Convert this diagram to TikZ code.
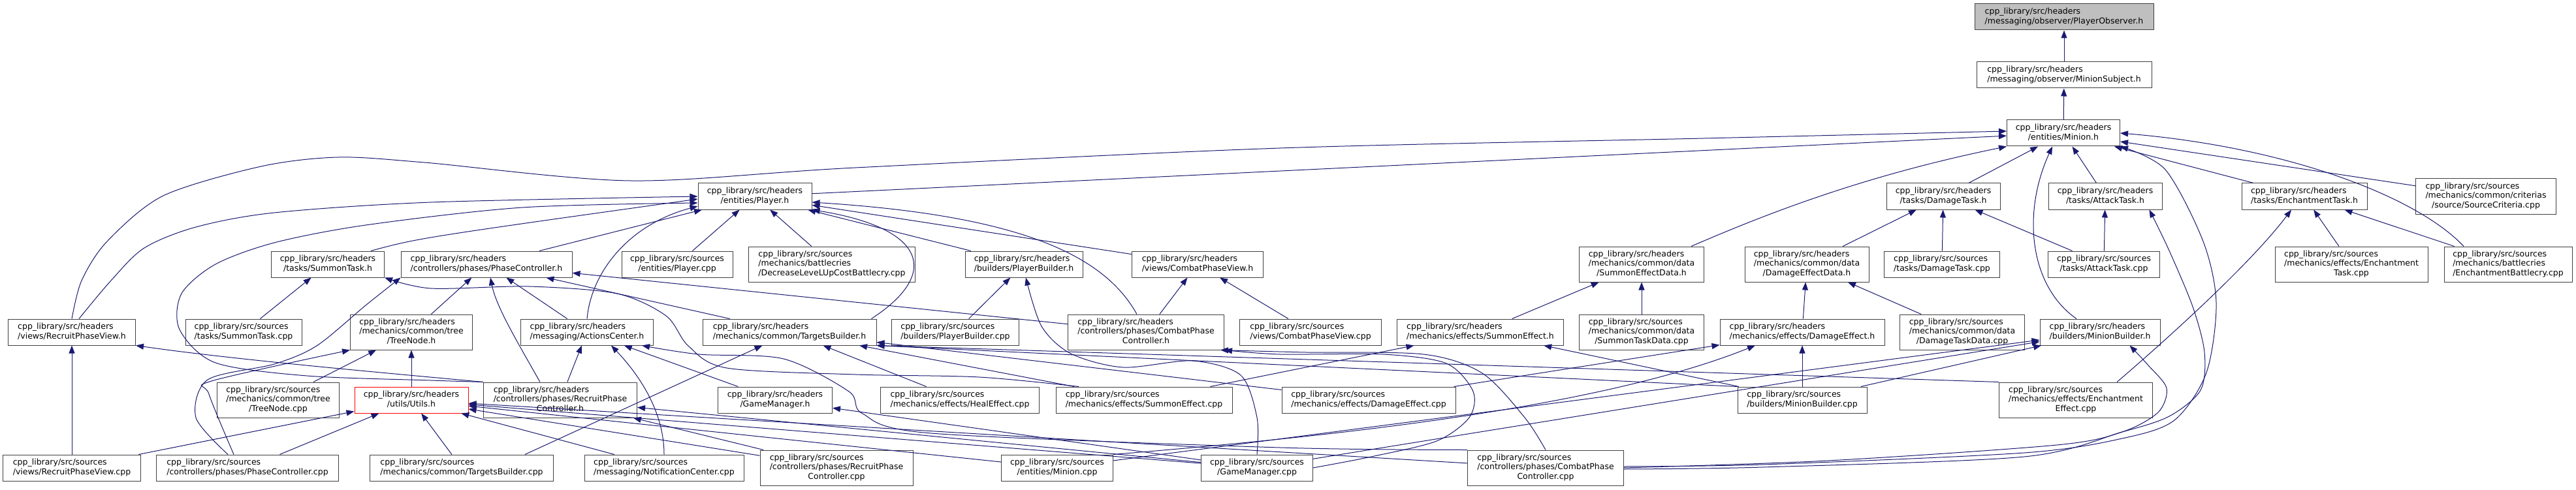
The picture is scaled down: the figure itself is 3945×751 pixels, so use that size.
\documentclass[tikz,border=0pt]{standalone}
\usepackage{fontspec}
\newfontfamily\dxfont{DejaVu Sans}
\usepackage{tikz}
\usetikzlibrary{arrows.meta}

\definecolor{edgeblue}{HTML}{191970}
\definecolor{boxline}{HTML}{404040}
\definecolor{rootgray}{HTML}{BFBFBF}

\newcommand{\hdrs}{cpp\_library/src/headers}
\newcommand{\srcs}{cpp\_library/src/sources}
\newcommand{\twolines}[2]{\begin{tabular}{@{}l@{}}#1\\\multicolumn{1}{@{}c@{}}{#2}\end{tabular}}
\newcommand{\threelines}[3]{\begin{tabular}{@{}l@{}}#1\\#2\\\multicolumn{1}{@{}c@{}}{#3}\end{tabular}}

\begin{document}
\begin{tikzpicture}[x=1pt, y=-1pt]
    % Define styles
    \tikzstyle{file} = [rectangle, draw=boxline, fill=white, line width=1pt, minimum height=40pt, inner sep=0pt, font=\dxfont\fontsize{12.5}{14.5}\selectfont]
    \tikzstyle{tall} = [minimum height=54pt]
    \tikzstyle{root} = [fill=rootgray]
    \tikzstyle{warn} = [draw=red]
    \tikzstyle{inc} = [draw=edgeblue, line width=1pt, -{Triangle[length=12pt, width=9pt]}]

    \useasboundingbox (0,0) rectangle (3945,751);

    % Observer chain
    \node[file, root, minimum width=274pt] (observer) at (3161,26) {\twolines{\hdrs}{/messaging/observer/PlayerObserver.h}};
    \node[file, minimum width=268pt] (subject) at (3161,115) {\twolines{\hdrs}{/messaging/observer/MinionSubject.h}};
    \node[file, minimum width=173pt] (minionh) at (3160,204) {\twolines{\hdrs}{/entities/Minion.h}};

    % Row 3
    \node[file, minimum width=174pt] (playerh) at (1156,301) {\twolines{\hdrs}{/entities/Player.h}};
    \node[file, minimum width=174pt] (damagetaskh) at (2976,301) {\twolines{\hdrs}{/tasks/DamageTask.h}};
    \node[file, minimum width=174pt] (attacktaskh) at (3224,301) {\twolines{\hdrs}{/tasks/AttackTask.h}};
    \node[file, minimum width=192pt] (enchtaskh) at (3529,301) {\twolines{\hdrs}{/tasks/EnchantmentTask.h}};
    \node[file, tall, minimum width=215pt] (srccrit) at (3807,301) {\threelines{\srcs}{/mechanics/common/criterias}{/source/SourceCriteria.cpp}};

    % Row 4
    \node[file, minimum width=173pt] (summontaskh) at (502,405) {\twolines{\hdrs}{/tasks/SummonTask.h}};
    \node[file, minimum width=262pt] (phasectrlh) at (745,405) {\twolines{\hdrs}{/controllers/phases/PhaseController.h}};
    \node[file, minimum width=170pt] (playercpp) at (1037,405) {\twolines{\srcs}{/entities/Player.cpp}};
    \node[file, tall, minimum width=255pt] (declevelcpp) at (1274,405) {\threelines{\srcs}{/mechanics/battlecries}{/DecreaseLeveLUpCostBattlecry.cpp}};
    \node[file, minimum width=180pt] (plbuilderh) at (1568,405) {\twolines{\hdrs}{/builders/PlayerBuilder.h}};
    \node[file, minimum width=201pt] (combatviewh) at (1834,405) {\twolines{\hdrs}{/views/CombatPhaseView.h}};
    \node[file, tall, minimum width=191pt] (summondatah) at (2514,405) {\threelines{\hdrs}{/mechanics/common/data}{/SummonEffectData.h}};
    \node[file, tall, minimum width=190pt] (damagedatah) at (2767,405) {\threelines{\hdrs}{/mechanics/common/data}{/DamageEffectData.h}};
    \node[file, minimum width=177pt] (damagetaskcpp) at (2974,405) {\twolines{\srcs}{/tasks/DamageTask.cpp}};
    \node[file, minimum width=171pt] (attacktaskcpp) at (3222,405) {\twolines{\srcs}{/tasks/AttackTask.cpp}};
    \node[file, tall, minimum width=234pt] (enchtaskcpp) at (3601,405) {\threelines{\srcs}{/mechanics/effects/Enchantment}{Task.cpp}};
    \node[file, tall, minimum width=196pt] (enchbattlecpp) at (3841,405) {\threelines{\srcs}{/mechanics/battlecries}{/EnchantmentBattlecry.cpp}};

    % Row 5
    \node[file, minimum width=195pt] (recruitviewh) at (110,509) {\twolines{\hdrs}{/views/RecruitPhaseView.h}};
    \node[file, minimum width=178pt] (summontaskcpp) at (373,509) {\twolines{\srcs}{/tasks/SummonTask.cpp}};
    \node[file, tall, minimum width=187pt] (treenodeh) at (630,509) {\threelines{\hdrs}{/mechanics/common/tree}{/TreeNode.h}};
    \node[file, minimum width=203pt] (actionsh) at (899,509) {\twolines{\hdrs}{/messaging/ActionsCenter.h}};
    \node[file, minimum width=266pt] (targetsh) at (1209,509) {\twolines{\hdrs}{/mechanics/common/TargetsBuilder.h}};
    \node[file, minimum width=195pt] (plbuildercpp) at (1463,509) {\twolines{\srcs}{/builders/PlayerBuilder.cpp}};
    \node[file, tall, minimum width=239pt] (combatctrlh) at (1755,509) {\threelines{\hdrs}{/controllers/phases/CombatPhase}{Controller.h}};
    \node[file, minimum width=217pt] (combatviewcpp) at (2007,509) {\twolines{\srcs}{/views/CombatPhaseView.cpp}};
    \node[file, minimum width=255pt] (summoneffh) at (2267,509) {\twolines{\hdrs}{/mechanics/effects/SummonEffect.h}};
    \node[file, tall, minimum width=191pt] (summondatacpp) at (2514,509) {\threelines{\srcs}{/mechanics/common/data}{/SummonTaskData.cpp}};
    \node[file, minimum width=252pt] (damageeffh) at (2760,509) {\twolines{\hdrs}{/mechanics/effects/DamageEffect.h}};
    \node[file, tall, minimum width=191pt] (damagedatacpp) at (3005,509) {\threelines{\srcs}{/mechanics/common/data}{/DamageTaskData.cpp}};
    \node[file, minimum width=184pt] (minbuilderh) at (3216,509) {\twolines{\hdrs}{/builders/MinionBuilder.h}};

    % Row 6
    \node[file, tall, minimum width=187pt] (treenodecpp) at (426,613) {\threelines{\srcs}{/mechanics/common/tree}{/TreeNode.cpp}};
    \node[file, warn, minimum width=174pt] (utilsh) at (630,613) {\twolines{\hdrs}{/utils/Utils.h}};
    \node[file, tall, minimum width=235pt] (recruitctrlh) at (858,613) {\threelines{\hdrs}{/controllers/phases/RecruitPhase}{Controller.h}};
    \node[file, minimum width=175pt] (gamemgrh) at (1187,613) {\twolines{\hdrs}{/GameManager.h}};
    \node[file, minimum width=243pt] (healeffcpp) at (1470,613) {\twolines{\srcs}{/mechanics/effects/HealEffect.cpp}};
    \node[file, minimum width=270pt] (summoneffcpp) at (1752,613) {\twolines{\srcs}{/mechanics/effects/SummonEffect.cpp}};
    \node[file, minimum width=266pt] (damageeffcpp) at (2096,613) {\twolines{\srcs}{/mechanics/effects/DamageEffect.cpp}};
    \node[file, minimum width=198pt] (minbuildercpp) at (2760,613) {\twolines{\srcs}{/builders/MinionBuilder.cpp}};
    \node[file, tall, minimum width=235pt] (encheffcpp) at (3179,613) {\threelines{\srcs}{/mechanics/effects/Enchantment}{Effect.cpp}};

    % Row 7
    \node[file, minimum width=211pt] (recruitviewcpp) at (110,717) {\twolines{\srcs}{/views/RecruitPhaseView.cpp}};
    \node[file, minimum width=279pt] (phasectrlcpp) at (379,717) {\twolines{\srcs}{/controllers/phases/PhaseController.cpp}};
    \node[file, minimum width=281pt] (targetscpp) at (707,717) {\twolines{\srcs}{/mechanics/common/TargetsBuilder.cpp}};
    \node[file, minimum width=244pt] (notifcpp) at (1017,717) {\twolines{\srcs}{/messaging/NotificationCenter.cpp}};
    \node[file, tall, minimum width=234pt] (recruitctrlcpp) at (1281,717) {\threelines{\srcs}{/controllers/phases/RecruitPhase}{Controller.cpp}};
    \node[file, minimum width=171pt] (minioncpp) at (1619,717) {\twolines{\srcs}{/entities/Minion.cpp}};
    \node[file, minimum width=171pt] (gamemgrcpp) at (1925,717) {\twolines{\srcs}{/GameManager.cpp}};
    \node[file, tall, minimum width=239pt] (combatctrlcpp) at (2367,717) {\threelines{\srcs}{/controllers/phases/CombatPhase}{Controller.cpp}};

    % Minion.h connections
    \draw[inc] (subject) -- (observer);
    \draw[inc] (minionh) -- (subject);
    \draw[inc] (playerh) -- (minionh);
    \draw[inc] plot[smooth] coordinates {(recruitviewh.north) (125,430) (164,370) (250,300) (400,255) (518,241) (650,249) (966,277) (1310,257) (1960,227) (2610,212) ([yshift=3pt]minionh.west)};
    \draw[inc] ([xshift=76pt]summondatah.north) .. controls (2700,330) and (2850,270) .. (minionh.south west);
    \draw[inc] (damagetaskh) -- (minionh);
    \draw[inc] ([xshift=-36pt]minbuilderh.north) .. controls (3110,440) and (3095,330) .. ([xshift=-17pt]minionh.south);
    \draw[inc] (attacktaskh) -- (minionh);
    \draw[inc] (enchtaskh) -- (minionh);
    \draw[inc] (srccrit) -- (minionh);
    \draw[inc] ([xshift=-68pt]enchbattlecpp.north) .. controls (3700,300) and (3500,225) .. (minionh.east);
    \draw[inc] plot[smooth] coordinates {([yshift=2pt]combatctrlcpp.east) (2700,712) (3100,694) (3250,672) (3330,644) (3379,571) (3394,464) (3374,370) (3316,260) (minionh.south east)};

    % Player.h connections
    \draw[inc] plot[smooth] coordinates {([xshift=11pt]recruitviewh.north) (170,430) (221,380) (300,348) (420,326) (660,310) (playerh.west)};
    \draw[inc] plot[smooth] coordinates {(recruitctrlh.north west) (660,583) (470,576) (330,556) (275,505) (278,450) (330,405) (420,372) (560,345) (800,318) ([yshift=-10pt]playerh.west)};
    \draw[inc] ([xshift=-21pt]summontaskh.north east) .. controls (640,365) .. ([yshift=-4pt]playerh.west);
    \draw[inc] (actionsh.north) .. controls (905,420) and (960,345) .. ([yshift=-15pt]playerh.west);
    \draw[inc] (phasectrlh) -- (playerh);
    \draw[inc] (playercpp) -- (playerh);
    \draw[inc] (declevelcpp) -- (playerh);
    \draw[inc] ([xshift=-14pt]combatctrlh.north) .. controls (1690,390) and (1560,330) .. ([yshift=-9pt]playerh.east);
    \draw[inc] (combatviewh) -- (playerh);
    \draw[inc] ([xshift=-8pt]targetsh.north east) .. controls (1440,420) and (1420,350) .. (playerh.south east);
    \draw[inc] (plbuilderh) -- (playerh);

    % Task headers
    \draw[inc] (damagedatah) -- (damagetaskh);
    \draw[inc] (damagetaskcpp) -- (damagetaskh);
    \draw[inc] (attacktaskcpp) -- (damagetaskh);
    \draw[inc] (attacktaskcpp) -- (attacktaskh);
    \draw[inc] plot[smooth] coordinates {([yshift=-2pt]combatctrlcpp.east) (2700,716) (3100,700) (3250,662) (3322,638) (3370,598) (3376,540) (3358,470) (3321,382) ([xshift=-20pt]attacktaskh.south east)};
    \draw[inc] ([xshift=-55pt]encheffcpp.north east) .. controls (3330,510) and (3450,400) .. ([xshift=-20pt]enchtaskh.south);
    \draw[inc] (enchtaskcpp) -- (enchtaskh);
    \draw[inc] (enchbattlecpp) -- (enchtaskh);

    % Row 4 headers
    \draw[inc] (summontaskcpp) -- (summontaskh);
    \draw[inc] plot[smooth] coordinates {([xshift=-100pt]summoneffcpp.north) (1500,578) (1310,574) (1113,564) (1054,530) (1020,484) (945,450) (810,439) (660,442) (summontaskh.south east)};
    \draw[inc] plot[smooth] coordinates {([xshift=-30pt]phasectrlcpp.north) (300,640) (318,582) (420,558) (485,530) (560,468) (phasectrlh.south west)};
    \draw[inc] (treenodeh) -- (phasectrlh);
    \draw[inc] ([xshift=-31pt]recruitctrlh.north) .. controls (790,520) and (760,470) .. ([xshift=6pt]phasectrlh.south);
    \draw[inc] (actionsh) -- (phasectrlh);
    \draw[inc] (targetsh) -- (phasectrlh);
    \draw[inc] (combatctrlh) -- (phasectrlh);
    \draw[inc] (plbuildercpp) -- (plbuilderh);
    \draw[inc] plot[smooth] coordinates {(gamemgrcpp.north) (1925,640) (1900,575) (1826,553) (1720,563) (1640,542) (1595,500) ([xshift=3pt]plbuilderh.south)};
    \draw[inc] (combatctrlh) -- (combatviewh);
    \draw[inc] (combatviewcpp) -- (combatviewh);
    \draw[inc] (summoneffh) -- (summondatah);
    \draw[inc] (summondatacpp) -- (summondatah);
    \draw[inc] (damageeffh) -- (damagedatah);
    \draw[inc] (damagedatacpp) -- (damagedatah);

    % Row 5 headers
    \draw[inc] (recruitviewcpp) -- (recruitviewh);
    \draw[inc] (recruitctrlh.north west) .. controls (550,568) and (350,550) .. (recruitviewh.south east);
    \draw[inc] (treenodecpp) -- (treenodeh);
    \draw[inc] (utilsh) -- (treenodeh);
    \draw[inc] plot[smooth] coordinates {([xshift=-21pt]phasectrlcpp.north) (320,604) (324,584) (treenodeh.south west)};
    \draw[inc] (recruitctrlh) -- (actionsh);
    \draw[inc] (notifcpp.north) .. controls (1017,620) and (965,560) .. ([xshift=37pt]actionsh.south);
    \draw[inc] (gamemgrh) -- (actionsh);
    \draw[inc] plot[smooth] coordinates {(combatctrlcpp.north west) (1960,686) (1426,664) (1321,634) (1300,600) (1200,550) (1070,543) ([xshift=-18pt]actionsh.south east)};
    \draw[inc] ([xshift=-44pt]targetscpp.north east) -- ([xshift=92pt]targetsh.south west);
    \draw[inc] (healeffcpp) -- (targetsh);
    \draw[inc] (summoneffcpp) -- (targetsh);
    \draw[inc] (damageeffcpp) -- (targetsh);
    \draw[inc] (encheffcpp.north west) -- (targetsh.south east);
    \draw[inc] (minbuildercpp.north west) -- (targetsh.south east);
    \draw[inc] plot[smooth] coordinates {(combatctrlcpp.north) (2335,640) (2270,572) (2180,543) (2000,540) ([xshift=-6pt]combatctrlh.south east)};
    \draw[inc] plot[smooth] coordinates {(gamemgrcpp.east) (2100,700) (2200,676) (2250,640) (2256,600) (2215,557) (2118,543) (1960,543) (combatctrlh.south east)};
    \draw[inc] (summoneffcpp) -- (summoneffh);
    \draw[inc] (minbuildercpp) -- (summoneffh);
    \draw[inc] (damageeffcpp) -- (damageeffh);
    \draw[inc] (minbuildercpp) -- (damageeffh);
    \draw[inc] (minioncpp.north east) .. controls (2050,668) and (2450,625) .. ([xshift=-72pt]damageeffh.south);
    \draw[inc] (minbuildercpp) -- (minbuilderh);
    \draw[inc] (minioncpp) -- (minbuilderh);
    \draw[inc] (gamemgrcpp) -- (minbuilderh);
    \draw[inc] plot[smooth] coordinates {(combatctrlcpp.east) (2800,706) (3150,682) (3250,662) (3305,632) (3318,595) (3290,560) ([xshift=-47pt]minbuilderh.south east)};

    % Utils.h and row 6 headers
    \draw[inc] (recruitviewcpp) -- (utilsh);
    \draw[inc] (phasectrlcpp) -- (utilsh);
    \draw[inc] (targetscpp) -- (utilsh);
    \draw[inc] (notifcpp) -- (utilsh);
    \draw[inc] (recruitctrlcpp) -- (utilsh);
    \draw[inc] (minioncpp) -- (utilsh);
    \draw[inc] (gamemgrcpp) -- (utilsh);
    \draw[inc] (combatctrlcpp) -- (utilsh);
    \draw[inc] (recruitctrlcpp) -- (recruitctrlh);
    \draw[inc] (gamemgrcpp) -- (recruitctrlh);
    \draw[inc] (gamemgrcpp) -- (gamemgrh);

\end{tikzpicture}
\end{document}
